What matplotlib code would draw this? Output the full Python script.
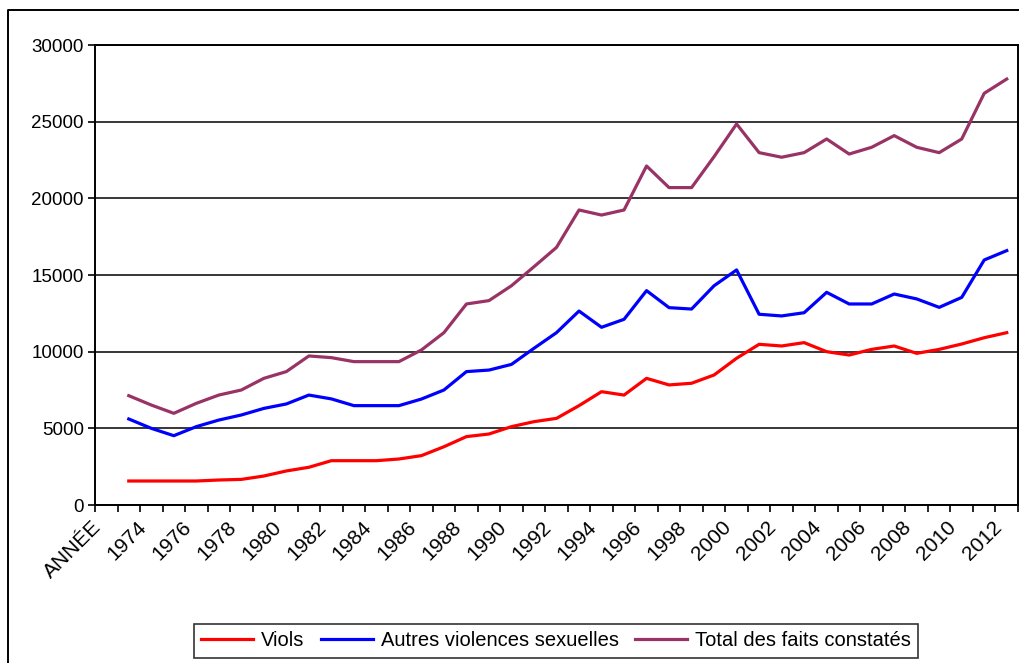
import matplotlib
matplotlib.use('Agg')
import matplotlib.pyplot as plt
import matplotlib.transforms as mtransforms
from matplotlib.lines import Line2D
import numpy as np

plt.rcParams['font.family'] = ['Liberation Sans', 'DejaVu Sans']

# categories: first one is the header cell "ANNÉE", then the years
annees = list(range(1973, 2013))
categories = ['ANNÉE'] + [str(a) for a in annees]

viols = [1565, 1565, 1565, 1565, 1630, 1670, 1890, 2220, 2460, 2890,
         2890, 2890, 3000, 3220, 3800, 4460, 4630, 5110, 5435, 5650,
         6480, 7390, 7170, 8260, 7830, 7940, 8480, 9570, 10480, 10370,
         10590, 10000, 9780, 10150, 10370, 9890, 10150, 10500, 10910, 11240]
autres = [5610, 5000, 4520, 5110, 5540, 5870, 6300, 6590, 7170, 6920,
          6480, 6480, 6480, 6910, 7500, 8700, 8800, 9170, 10220, 11240,
          12650, 11590, 12110, 13980, 12870, 12780, 14300, 15330, 12440, 12330,
          12540, 13870, 13110, 13110, 13760, 13440, 12890, 13540, 15980, 16590]
total = [7130, 6520, 5980, 6630, 7170, 7500, 8260, 8700, 9720, 9610,
         9350, 9350, 9350, 10110, 11240, 13110, 13330, 14300, 15540, 16800,
         19240, 18910, 19240, 22110, 20700, 20700, 22720, 24850, 22980, 22680,
         22980, 23870, 22890, 23330, 24090, 23330, 22980, 23870, 26850, 27780]

fig = plt.figure(figsize=(10.2, 6.63), dpi=100)
ax = fig.add_axes([95/1020, 1-505/663, (1018-95)/1020, 460/663])

x = np.arange(1, len(annees) + 1)
ax.plot(x, viols, color='#FF0000', lw=2.3, label='Viols')
ax.plot(x, autres, color='#0000FF', lw=2.3, label='Autres violences sexuelles')
ax.plot(x, total, color='#993366', lw=2.3, label='Total des faits constatés')

ax.set_xlim(-0.5, len(categories) - 0.5)
ax.set_ylim(0, 30000)
ax.set_yticks(range(0, 30001, 5000))
ax.yaxis.grid(True, color='black', lw=1.1)
ax.set_axisbelow(True)

# labels every other category, tick marks between categories
pos = list(range(0, len(categories), 2))
ax.set_xticks(pos)
ax.set_xticklabels([categories[p] for p in pos], rotation=45, ha='right',
                   rotation_mode='anchor', fontsize=15)
ax.set_xticks(np.arange(-0.5, len(categories)), minor=True)
ax.tick_params(axis='x', which='major', length=0, pad=9)
ax.tick_params(axis='x', which='minor', length=5, width=1.2, direction='out')
ax.tick_params(axis='y', length=5, width=1.2, labelsize=13.5, pad=3)

decal = mtransforms.ScaledTranslation(-0.15, 0, fig.dpi_scale_trans)
for lab in ax.get_xticklabels():
    lab.set_transform(lab.get_transform() + decal)

for s in ax.spines.values():
    s.set_color('black')
    s.set_linewidth(1.4)

leg = fig.legend(loc='center', bbox_to_anchor=(556/1020, 1-641/663), ncol=3,
                 fontsize=14.5, frameon=True, fancybox=False, edgecolor='black',
                 handlelength=2.6, columnspacing=0.8, handletextpad=0.4,
                 borderpad=0.35)
leg.get_frame().set_linewidth(1.2)

# outer chart frame (cut at the right and bottom)
fig.add_artist(Line2D([8/1020, 8/1020, 1.01], [-0.01, 1-10/663, 1-10/663],
                      color='black', lw=1.4, transform=fig.transFigure))

fig.savefig('out.png', dpi=100)
